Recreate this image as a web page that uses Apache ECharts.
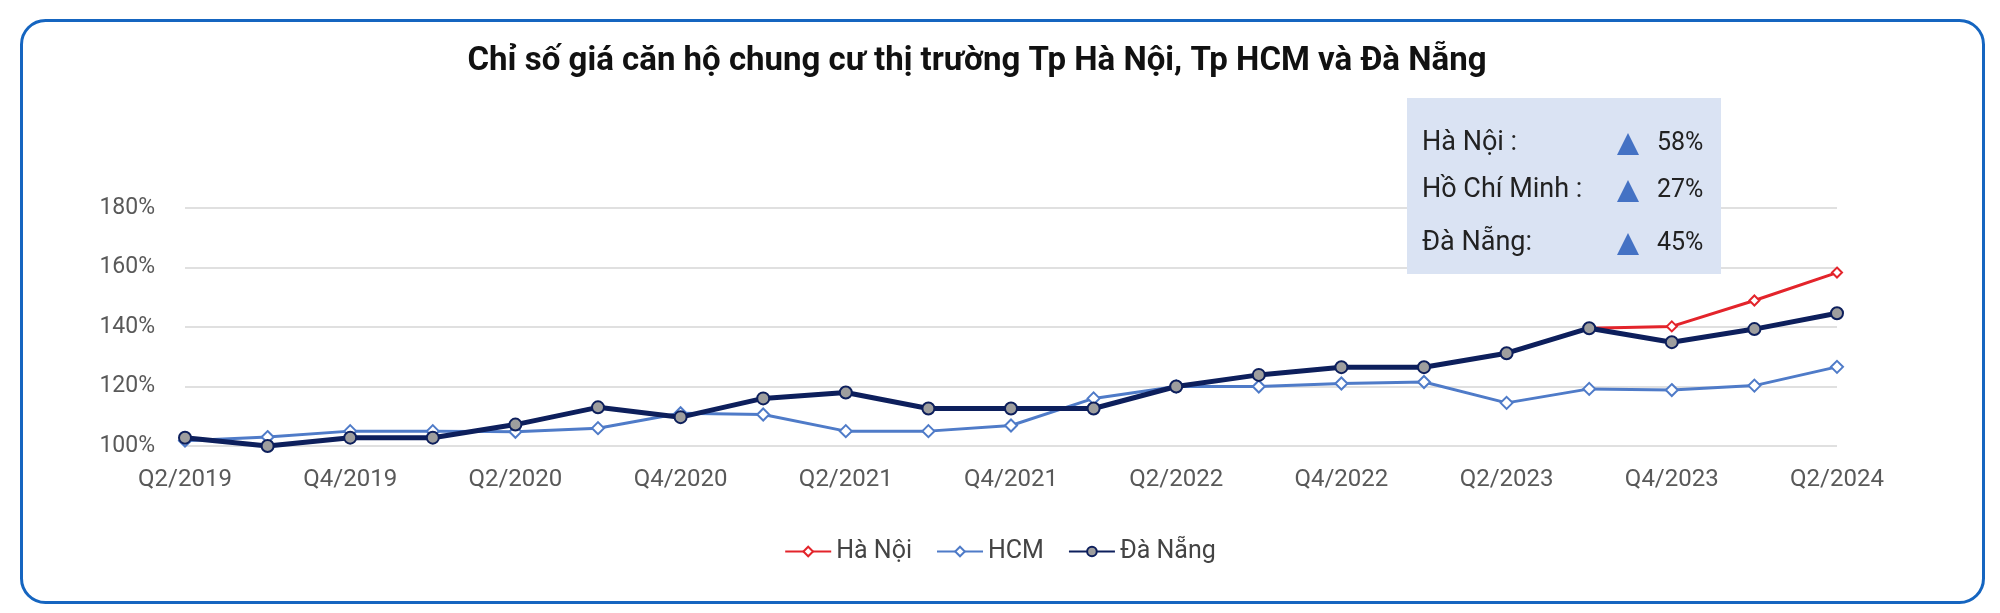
<!DOCTYPE html>
<html><head><meta charset="utf-8">
<script src="https://cdn.jsdelivr.net/npm/echarts@6/dist/echarts.min.js"></script>
<style>html,body{margin:0;padding:0;background:#fff}#c{width:2000px;height:613px}</style>
</head><body><div id="c"></div>
<script>
const categories = ['Q2/2019','Q3/2019','Q4/2019','Q1/2020','Q2/2020','Q3/2020','Q4/2020','Q1/2021','Q2/2021','Q3/2021','Q4/2021','Q1/2022','Q2/2022','Q3/2022','Q4/2022','Q1/2023','Q2/2023','Q3/2023','Q4/2023','Q1/2024','Q2/2024'];
const haNoi = [102.8,100,102.8,102.8,107.2,113,109.7,116,118,112.6,112.6,112.6,120,123.9,126.5,126.5,131.2,139.6,140.2,148.9,158.3];
const hcm = [101.8,103,105,105,104.8,106,111,110.6,105,105,106.9,116,120,120,121,121.5,114.5,119.2,118.8,120.3,126.6];
const daNang = [102.8,100,102.8,102.8,107.2,113,109.7,116,118,112.6,112.6,112.6,120,123.9,126.5,126.5,131.2,139.6,134.9,139.3,144.6];
const yTicks = [100,120,140,160,180];
const boxRows = [['Hà Nội :','58%'],['Hồ Chí Minh :','27%'],['Đà Nẵng:','45%']];
const ff = 'Roboto, "Noto Sans", sans-serif';
const chart = echarts.init(document.getElementById('c'));
const rowY = [145,192,245];
const g = [
 {type:'rect',left:19,top:18,shape:{width:1962,height:582,r:24},style:{fill:'none',stroke:'#1565c0',lineWidth:3},z:-1},
 {type:'rect',left:1407,top:98,shape:{width:314,height:176},style:{fill:'#dae3f3'},z:5}
];
boxRows.forEach((r,i)=>{
 g.push({type:'text',left:1422,top:rowY[i]-15,style:{text:r[0],font:'27px '+ff,fill:'#222'},z:6});
 g.push({type:'polygon',shape:{points:[[1628,rowY[i]-12],[1617,rowY[i]+10],[1639,rowY[i]+10]]},style:{fill:'#4472c4'},z:6});
 g.push({type:'text',left:1657,top:rowY[i]-14,style:{text:r[1],font:'25px '+ff,fill:'#222'},z:6});
});
chart.setOption({
 animation:false,
 title:{text:'Chỉ số giá căn hộ chung cư thị trường Tp Hà Nội, Tp HCM và Đà Nẵng',left:972,textAlign:'center',top:40,textStyle:{fontFamily:ff,fontSize:33,fontWeight:'bold',color:'#111'}},
 grid:{left:185,right:163,top:208,bottom:167},
 legend:{bottom:44,left:'center',itemWidth:46,itemHeight:12,itemGap:24,textStyle:{fontFamily:ff,fontSize:25,color:'#444'},data:['Hà Nội','HCM','Đà Nẵng']},
 xAxis:{type:'category',boundaryGap:false,data:categories,axisLine:{show:false},axisTick:{show:false},
   axisLabel:{interval:1,fontFamily:ff,fontSize:24,color:'#595959',margin:22}},
 yAxis:{type:'value',min:100,max:180,interval:20,axisLine:{show:false},axisTick:{show:false},
   splitLine:{lineStyle:{color:'#e0e0e0',width:2}},
   axisLabel:{fontFamily:ff,fontSize:23,color:'#595959',margin:30,formatter:v=>yTicks.includes(v)?v+'%':''}},
 series:[
  {name:'Hà Nội',type:'line',data:haNoi,z:2,lineStyle:{width:3,color:'#e3242b'},symbol:'diamond',symbolSize:10,itemStyle:{color:'#fff',borderColor:'#e3242b',borderWidth:2}},
  {name:'HCM',type:'line',data:hcm,z:3,lineStyle:{width:3,color:'#4f7bc8'},symbol:'diamond',symbolSize:12,itemStyle:{color:'#fff',borderColor:'#4f7bc8',borderWidth:2}},
  {name:'Đà Nẵng',type:'line',data:daNang,z:4,lineStyle:{width:5,color:'#0d1f5c'},symbol:'circle',symbolSize:12,itemStyle:{color:'#9e9e9e',borderColor:'#0d1f5c',borderWidth:2}}
 ],
 graphic:g
});
</script></body></html>
